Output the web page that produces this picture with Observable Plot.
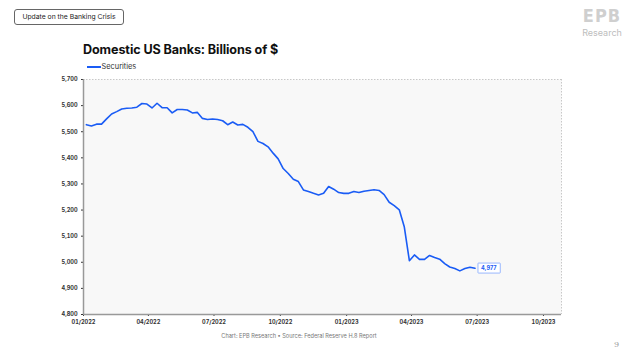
<!DOCTYPE html>
<html>
<head>
<meta charset="utf-8">
<script src="https://cdn.jsdelivr.net/npm/d3@7"></script>
<script src="https://cdn.jsdelivr.net/npm/@observablehq/plot@0.6"></script>
<style>
  html, body { margin: 0; padding: 0; background: #fff; }
  #page { position: relative; width: 640px; height: 360px; overflow: hidden; font-family: Inter, "Open Sans", sans-serif; }
  #tag { position: absolute; left: 14px; top: 9px; width: 108px; height: 14px; border: 1px solid #666; border-radius: 3px;
         font-size: 6.8px; line-height: 14px; text-align: center; color: #222; }
  #logo { position: absolute; left: 579px; top: 7px; width: 46px; text-align: center; font: 900 18px "DejaVu Sans Condensed", "DejaVu Sans", sans-serif; color: #cfcfcf; letter-spacing: 1px; line-height: 18px; }
  #logosub { position: absolute; left: 579px; top: 28px; width: 46px; text-align: center; font-size: 9px; color: #bdbdbd; line-height: 9px; }
  #title { position: absolute; left: 83px; top: 42px; font-weight: 700; font-size: 12.6px; color: #111; letter-spacing: -0.1px; white-space: nowrap; }
  #legend { position: absolute; left: 87px; top: 62px; font-size: 7.4px; color: #333; white-space: nowrap; line-height: 10px; }
  #legend span.sw { display: inline-block; width: 14px; height: 2px; background: #1a5cf5; vertical-align: middle; margin-right: 0.5px; }
  #chart { position: absolute; left: 0; top: 70px; }
  #caption { position: absolute; left: 0; width: 598px; top: 333px; text-align: center; font-size: 5.6px; color: #777; }
  #pnum { position: absolute; left: 614px; top: 340px; font: 8px "DejaVu Serif", serif; color: #999; }
</style>
</head>
<body>
<div id="page">
  <div id="tag">Update on the Banking Crisis</div>
  <div id="logo">EPB</div>
  <div id="logosub">Research</div>
  <div id="title">Domestic US Banks: Billions of $</div>
  <div id="legend"><span class="sw"></span>Securities</div>
  <div id="chart"></div>
  <div id="caption">Chart: EPB Research • Source: Federal Reserve H.8 Report</div>
  <div id="pnum">9</div>
</div>
<script>
// Weekly H.8 observations (billions of $), first week ending 2022-01-05
const firstWeek = "2022-01-05";
const securities = [
  5527, 5522, 5529, 5529, 5549, 5568, 5577, 5587, 5590, 5591,
  5594, 5608, 5606, 5591, 5609, 5592, 5592, 5572, 5585, 5585,
  5583, 5572, 5574, 5551, 5547, 5549, 5547, 5542, 5527, 5537,
  5526, 5528, 5517, 5500, 5463, 5455, 5442, 5418, 5396, 5359,
  5340, 5318, 5309, 5277, 5271, 5264, 5258, 5264, 5290, 5280,
  5267, 5264, 5264, 5271, 5267, 5272, 5275, 5278, 5275, 5259,
  5230, 5217, 5201, 5135, 5006, 5028, 5011, 5011, 5026, 5018,
  5012, 4995, 4982, 4976, 4967, 4976, 4981, 4977
];
const xTicks = ["2022-01-01", "2022-04-01", "2022-07-01", "2022-10-01", "2023-01-01", "2023-04-01", "2023-07-01", "2023-10-01"];
const yTicks = [4800, 4900, 5000, 5100, 5200, 5300, 5400, 5500, 5600, 5700];
const xDomain = ["2022-01-01", "2023-10-26"];
const yDomain = [4800, 5700];

const start = new Date(firstWeek);
const data = securities.map((v, i) => ({date: d3.utcDay.offset(start, 7 * i), value: v}));
const last = data[data.length - 1];
const xt = xTicks.map(s => new Date(s));
const xd = xDomain.map(s => new Date(s));
const blue = "#1a5cf5";

const chart = Plot.plot({
  width: 600,
  height: 260,
  marginLeft: 83,
  marginRight: 39,
  marginTop: 9,
  marginBottom: 16,
  style: {fontFamily: "Inter, sans-serif", fontSize: "5.6px", fontWeight: 700, color: "#333", background: "transparent", overflow: "visible"},
  x: {type: "utc", domain: xd, ticks: xt, tickFormat: d3.utcFormat("%m/%Y"), tickSize: 2, tickPadding: 4, label: null},
  y: {domain: yDomain, ticks: yTicks, tickFormat: d3.format(","), tickSize: 2, tickPadding: 4, label: null},
  marks: [
    Plot.frame({fill: "#f8f8f8", stroke: null}),
    Plot.ruleY([yDomain[1]], {stroke: "#c8c8c8", strokeDasharray: "1.5,1.5", strokeWidth: 1}),
    Plot.ruleX([xd[1]], {stroke: "#c8c8c8", strokeDasharray: "1.5,1.5", strokeWidth: 1}),
    Plot.ruleX([xd[0]], {stroke: "#999", strokeWidth: 1.5}),
    Plot.ruleY([yDomain[0]], {stroke: "#999", strokeWidth: 1.5}),
    Plot.line(data, {x: "date", y: "value", stroke: blue, strokeWidth: 1.6}),
    Plot.text([last], {x: "date", y: "value", text: d => d3.format(",")(d.value), dx: 6, textAnchor: "start",
      fill: blue, fontSize: 5.6, fontWeight: 700})
  ]
});
document.getElementById("chart").appendChild(chart);

// draw the value box behind the end label
const lbl = chart.querySelector('g[aria-label="text"] text');
if (lbl) {
  const bb = lbl.getBBox();
  const r = document.createElementNS("http://www.w3.org/2000/svg", "rect");
  r.setAttribute("x", bb.x - 3);
  r.setAttribute("y", bb.y - 2);
  r.setAttribute("width", bb.width + 6);
  r.setAttribute("height", bb.height + 4);
  r.setAttribute("fill", "#fff");
  r.setAttribute("stroke", "#7fa6ff");
  r.setAttribute("stroke-width", "0.8");
  r.setAttribute("rx", "0.5");
  const t = lbl.getAttribute("transform");
  if (t) r.setAttribute("transform", t);
  lbl.parentNode.insertBefore(r, lbl);
}
</script>
</body>
</html>
